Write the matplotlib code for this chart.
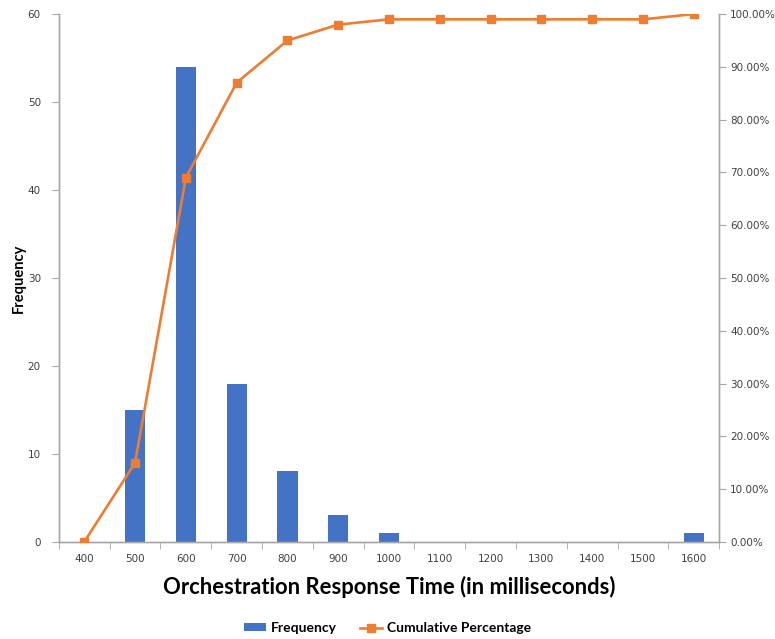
import matplotlib
matplotlib.use("Agg")
import matplotlib.pyplot as plt
from matplotlib.ticker import FixedLocator, PercentFormatter
import numpy as np

# Данные гистограммы
bins = ["400", "500", "600", "700", "800", "900", "1000", "1100",
        "1200", "1300", "1400", "1500", "1600"]
frequency = [0, 15, 54, 18, 8, 3, 1, 0, 0, 0, 0, 0, 1]
cumulative_pct = [0.0, 15.0, 69.0, 87.0, 95.0, 98.0, 99.0, 99.0,
                  99.0, 99.0, 99.0, 99.0, 100.0]

blue = "#4472C4"
orange = "#ED7D31"
spine_col = "#A6A6A6"
tick_font = {"family": "DejaVu Sans", "size": 7.5, "color": "#404040"}

fig = plt.figure(figsize=(7.75, 6.39), dpi=100)
ax = fig.add_axes([0.076, 0.152, 0.852, 0.826])
x = np.arange(len(bins))

ax.bar(x, frequency, width=0.4, color=blue, label="Frequency", zorder=2)
ax.set_xlim(-0.5, len(bins) - 0.5)
ax.set_ylim(0, 60)
ax.set_yticks(range(0, 61, 10))
ax.set_xticks(x)
ax.set_xticklabels(bins)
ax.xaxis.set_minor_locator(FixedLocator(np.arange(-0.5, len(bins), 1)))
ax.tick_params(axis="x", which="major", length=0, pad=9)
ax.tick_params(axis="x", which="minor", length=5, color=spine_col)
ax.tick_params(axis="y", length=5, color=spine_col, pad=8)
for lbl in ax.get_xticklabels() + ax.get_yticklabels():
    lbl.set_fontfamily(tick_font["family"])
    lbl.set_fontsize(tick_font["size"])
    lbl.set_color(tick_font["color"])

ax2 = ax.twinx()
ax2.plot(x, cumulative_pct, color=orange, marker="s", markersize=5.5,
         linewidth=1.9, label="Cumulative Percentage", zorder=3)
ax2.set_ylim(0, 100)
ax2.set_yticks(range(0, 101, 10))
ax2.yaxis.set_major_formatter(PercentFormatter(decimals=2))
ax2.tick_params(axis="y", length=5, color=spine_col, pad=3)
for lbl in ax2.get_yticklabels():
    lbl.set_fontfamily(tick_font["family"])
    lbl.set_fontsize(tick_font["size"])
    lbl.set_color(tick_font["color"])

for a in (ax, ax2):
    a.spines["top"].set_visible(False)
    for s in ("left", "right", "bottom"):
        a.spines[s].set_color(spine_col)
        a.spines[s].set_linewidth(1.0)

ax.set_xlabel("Orchestration Response Time (in milliseconds)",
              fontfamily="Lato", fontweight="bold", fontsize=15.8, labelpad=8)
ax.set_ylabel("Frequency", fontfamily="Lato", fontweight="bold", fontsize=10.5)
ax.yaxis.set_label_coords(-0.05, 0.5)

h1, l1 = ax.get_legend_handles_labels()
h2, l2 = ax2.get_legend_handles_labels()
fig.legend(h1 + h2, l1 + l2, loc="lower center", bbox_to_anchor=(0.5, -0.012),
           ncol=2, frameon=False, prop={"family": "Lato", "weight": "bold", "size": 10},
           handlelength=1.6, handleheight=0.55, handletextpad=0.4, columnspacing=1.6)

fig.savefig("out.png", dpi=100)
